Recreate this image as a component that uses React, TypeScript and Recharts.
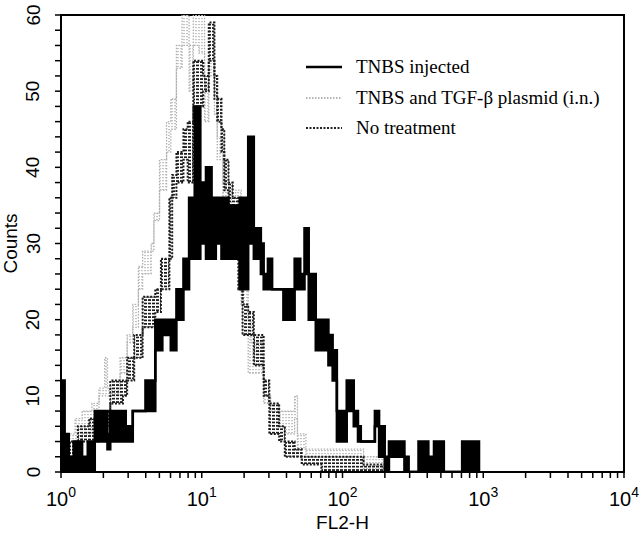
import React from 'react';
import { ComposedChart, Area, XAxis, YAxis, ReferenceArea, Legend } from 'recharts';

// step start positions are log10(FL2-H); low/high give the band the trace jitters over
const tnbsLog = [0, 0.012, 0.026, 0.055, 0.09, 0.15, 0.19, 0.24, 0.33, 0.35, 0.46, 0.51, 0.6, 0.67, 0.72, 0.78, 0.82, 0.87, 0.91, 0.95, 0.99, 1.03, 1.07, 1.1, 1.14, 1.19, 1.23, 1.27, 1.33, 1.37, 1.42, 1.44, 1.47, 1.5, 1.58, 1.63, 1.66, 1.7, 1.73, 1.76, 1.81, 1.9, 1.93, 1.96, 2.03, 2.08, 2.11, 2.13, 2.23, 2.26, 2.3, 2.33, 2.44, 2.47, 2.54, 2.61, 2.65, 2.72, 2.85, 2.97];
const tnbsLow = [0, 0, 0, 0, 0, 0, 0, 4, 3, 4, 4, 8, 8, 16, 18, 16, 20, 24, 28, 28, 30, 28, 28, 30, 28, 28, 28, 24, 30, 28, 26, 24, 24, 24, 20, 20, 24, 24, 26, 20, 16, 14, 12, 4, 8, 6, 4, 4, 6, 2, 0, 2, 0, 0, 0, 0, 0, 0, 0, 0];
const tnbsHigh = [5, 12, 5, 2, 4, 2, 4, 8, 5, 8, 6, 8, 12, 20, 20, 20, 24, 28, 36, 48, 38, 40, 36, 36, 36, 35, 35, 36, 44, 32, 30, 26, 28, 24, 24, 24, 28, 26, 32, 26, 20, 18, 16, 8, 12, 8, 6, 4, 8, 6, 2, 4, 2, 0, 4, 2, 4, 0, 4, 0];

const tgfLog = [0, 0.05, 0.1, 0.15, 0.22, 0.27, 0.31, 0.33, 0.42, 0.47, 0.51, 0.55, 0.58, 0.64, 0.66, 0.7, 0.75, 0.78, 0.82, 0.86, 0.91, 0.94, 0.98, 1.02, 1.05, 1.09, 1.11, 1.15, 1.21, 1.24, 1.28, 1.33, 1.35, 1.44, 1.49, 1.55, 1.59, 1.66, 1.68, 1.74, 1.87, 2.15, 2.33];
const tgfLow = [0, 2, 4, 5, 6, 10, 10, 10, 13, 17, 19, 24, 26, 29, 33, 37, 42, 45, 53, 56, 50, 56, 55, 46, 52, 47, 41, 36, 34, 34, 22, 13, 13, 9, 8, 6, 5, 7, 3, 2, 2, 0, 0];
const tgfHigh = [5, 5, 7, 8, 9, 11, 15, 11, 15, 18, 22, 27, 29, 30, 34, 41, 46, 49, 56, 60, 56, 60, 60, 51, 54, 50, 44, 38, 36, 37, 28, 20, 17, 10, 9, 8, 8, 10, 5, 3, 3, 2, 0];

const noTxLog = [0, 0.05, 0.12, 0.2, 0.26, 0.35, 0.44, 0.47, 0.52, 0.58, 0.67, 0.71, 0.77, 0.79, 0.82, 0.87, 0.9, 0.94, 1.01, 1.05, 1.09, 1.11, 1.14, 1.16, 1.19, 1.22, 1.26, 1.29, 1.33, 1.37, 1.44, 1.48, 1.55, 1.59, 1.66, 1.71, 1.85, 2.15, 2.3];
const noTxLow = [0, 2, 4, 4, 6, 9, 10, 12, 15, 19, 21, 24, 28, 36, 38, 41, 38, 48, 50, 54, 49, 46, 42, 37, 35, 34, 24, 18, 18, 14, 10, 5, 4, 2, 2, 1, 0, 0, 0];
const noTxHigh = [3, 4, 6, 7, 8, 12, 12, 15, 18, 23, 24, 28, 36, 39, 42, 45, 46, 54, 52, 59, 52, 49, 45, 41, 38, 36, 28, 22, 21, 18, 12, 9, 6, 4, 3, 2, 2, 1, 0];

const decades = [1, 10, 100, 1000, 10000];
const yTicks = [0, 2, 4, 6, 8, 10, 12, 14, 16, 18, 20, 22, 24, 26, 28, 30, 32, 34, 36, 38, 40, 42, 44, 46, 48, 50, 52, 54, 56, 58, 60];
const yLabels = [0, 10, 20, 30, 40, 50, 60];

const legendItems = [
  { name: 'TNBS injected', color: '#000', width: 2.5, dash: undefined },
  { name: 'TNBS and TGF-\u03b2 plasmid (i.n.)', color: '#b5b5b5', width: 2, dash: '1.5 1.5' },
  { name: 'No treatment', color: '#222', width: 2, dash: '2 1.5' },
];

const sans = '"Liberation Sans", Arial, Helvetica, sans-serif';
const serif = '"Liberation Serif", "Times New Roman", Times, serif';

const toSteps = (logs: number[], lo: number[], hi: number[]) =>
  logs.map((l, i) => ({ x: Math.pow(10, l), range: [lo[i], hi[i]] }));

const tnbsData = toSteps(tnbsLog, tnbsLow, tnbsHigh);
const tgfData = toSteps(tgfLog, tgfLow, tgfHigh);
const noTxData = toSteps(noTxLog, noTxLow, noTxHigh);

const xTicks: number[] = [];
decades.forEach((d, i) => {
  if (i === decades.length - 1) {
    xTicks.push(d);
  } else {
    for (let m = 1; m < 10; m++) xTicks.push(d * m);
  }
});

const XTick = (props: any) => {
  const { x, y, payload } = props;
  const exp = Math.round(Math.log10(payload.value));
  if (!decades.includes(payload.value)) return <g />;
  return (
    <text x={x} y={y + 26} textAnchor="middle" fontFamily={sans} fontSize={20} fill="#000">
      <tspan>10</tspan>
      <tspan dy={-9} fontSize={14}>{exp}</tspan>
    </text>
  );
};

const YTick = (props: any) => {
  const { y, payload } = props;
  if (!yLabels.includes(payload.value)) return <g />;
  const cx = 33;
  return (
    <text
      x={cx}
      y={y}
      transform={`rotate(-90, ${cx}, ${y})`}
      textAnchor="middle"
      dominantBaseline="central"
      fontFamily={sans}
      fontSize={19}
      fill="#000"
    >
      {payload.value}
    </text>
  );
};

// y axis title, drawn by hand so it sits fully inside the page
const CountsLabel = (props: any) => {
  const vb = props.viewBox || { y: 15, height: 457 };
  const cx = 17;
  const cy = vb.y + vb.height / 2;
  return (
    <text x={cx} y={cy} transform={`rotate(-90, ${cx}, ${cy})`} textAnchor="middle" fontFamily={sans} fontSize={19} fill="#000">
      Counts
    </text>
  );
};

const renderLegend = () => (
  <div style={{ fontFamily: serif, fontSize: 19, color: '#000' }}>
    {legendItems.map((item) => (
      <div key={item.name} style={{ display: 'flex', alignItems: 'center', height: 30.5 }}>
        <svg width={36} height={6} style={{ marginRight: 14 }}>
          <line x1={0} y1={3} x2={36} y2={3} stroke={item.color} strokeWidth={item.width} strokeDasharray={item.dash} />
        </svg>
        <span>{item.name}</span>
      </div>
    ))}
  </div>
);

const App: React.FC = () => {
  return (
    <div style={{ position: 'absolute', left: 0, top: 0, width: 640, height: 533, background: '#fff' }}>
      <ComposedChart width={640} height={533} margin={{ top: 15, right: 16, bottom: 0, left: 0 }}>
        <defs>
          <pattern id="hatchDark" width="4" height="3.4" patternUnits="userSpaceOnUse">
            <rect x="0" y="0" width="3" height="1.7" fill="#1c1c1c" />
          </pattern>
          <pattern id="hatchLight" width="3" height="3" patternUnits="userSpaceOnUse">
            <rect x="0" y="0" width="2" height="1.2" fill="#c4c4c4" />
          </pattern>
        </defs>
        <XAxis
          dataKey="x"
          type="number"
          scale="log"
          domain={[1, 10000]}
          allowDataOverflow
          ticks={xTicks}
          interval={0}
          tick={<XTick />}
          tickSize={6}
          tickLine={{ stroke: '#000', strokeWidth: 1.5 }}
          axisLine={{ stroke: '#000', strokeWidth: 2 }}
          height={61}
          label={{ value: 'FL2-H', position: 'insideBottom', offset: 4, fontFamily: sans, fontSize: 19, fill: '#000' }}
        />
        <YAxis
          type="number"
          domain={[0, 60]}
          allowDataOverflow
          ticks={yTicks}
          interval={0}
          tick={<YTick />}
          tickSize={6}
          tickLine={{ stroke: '#000', strokeWidth: 1.5 }}
          axisLine={{ stroke: '#000', strokeWidth: 2 }}
          width={61}
          label={<CountsLabel />}
        />
        <ReferenceArea x1={1} x2={10000} y1={0} y2={60} fill="none" stroke="#000" strokeWidth={2} />
        <Area
          data={tgfData}
          dataKey="range"
          type="stepAfter"
          stroke="#b0b0b0"
          strokeWidth={1.3}
          strokeDasharray="1.5 1.5"
          fill="url(#hatchLight)"
          fillOpacity={1}
          dot={false}
          activeDot={false}
          isAnimationActive={false}
        />
        <Area
          data={noTxData}
          dataKey="range"
          type="stepAfter"
          stroke="#1c1c1c"
          strokeWidth={2}
          strokeDasharray="2 1.5"
          fill="url(#hatchDark)"
          fillOpacity={1}
          dot={false}
          activeDot={false}
          isAnimationActive={false}
        />
        <Area
          data={tnbsData}
          dataKey="range"
          type="stepAfter"
          stroke="#000"
          strokeWidth={2.5}
          fill="#000"
          fillOpacity={1}
          dot={false}
          activeDot={false}
          isAnimationActive={false}
        />
        <Legend
          layout="vertical"
          align="center"
          verticalAlign="middle"
          content={renderLegend}
          wrapperStyle={{ position: 'absolute', left: 306, top: 52, width: 320 }}
        />
      </ComposedChart>
    </div>
  );
};

export default App;
